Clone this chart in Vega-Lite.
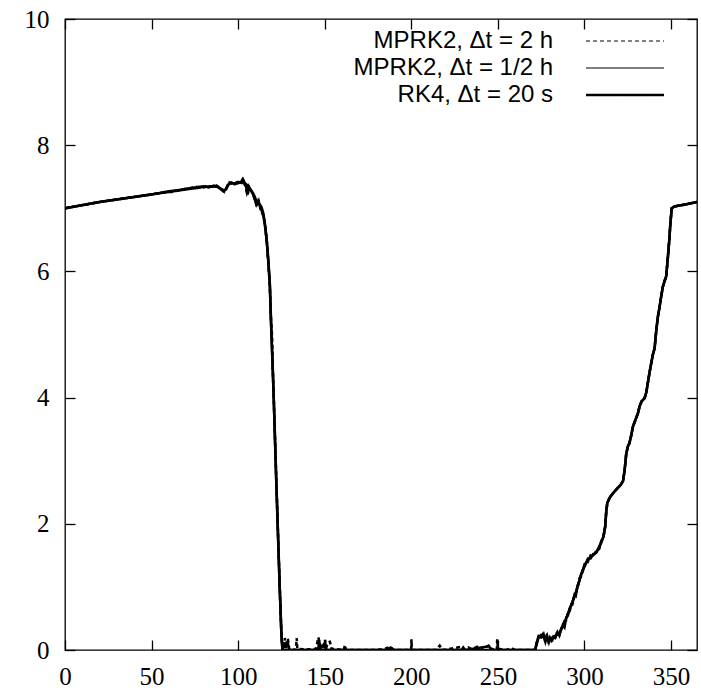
{
  "$schema": "https://vega.github.io/schema/vega-lite/v6.json",
  "width": 632,
  "height": 631,
  "autosize": {"type": "none"},
  "padding": {"left": 65, "top": 19, "right": 4, "bottom": 41},
  "background": "white",
  "datasets": {
    "rk4": [
      {"d":0,"v":7.0},{"d":10,"v":7.05},{"d":20,"v":7.1},{"d":30,"v":7.14},{"d":40,"v":7.18},{"d":50,"v":7.22},{"d":60,"v":7.26},{"d":70,"v":7.3},{"d":78,"v":7.33},{"d":84,"v":7.35},{"d":88,"v":7.34},{"d":90,"v":7.31},{"d":92,"v":7.28},{"d":93,"v":7.3},{"d":94,"v":7.37},{"d":96,"v":7.4},{"d":99,"v":7.39},{"d":101,"v":7.41},{"d":103,"v":7.42},{"d":105,"v":7.37},{"d":107,"v":7.3},{"d":109,"v":7.22},{"d":110.5,"v":7.12},{"d":112,"v":7.08},{"d":113.5,"v":7.02},{"d":114.5,"v":6.92},{"d":115.5,"v":6.75},{"d":116.5,"v":6.5},{"d":117.5,"v":6.15},{"d":118.3,"v":5.8},{"d":119,"v":5.2},{"d":120,"v":4.45},{"d":121,"v":3.6},{"d":122,"v":2.7},{"d":123,"v":1.85},{"d":124,"v":1.0},{"d":125,"v":0.25},{"d":125.6,"v":0},{"d":140,"v":0},{"d":160,"v":0},{"d":180,"v":0},{"d":200,"v":0},{"d":220,"v":0},{"d":240,"v":0},{"d":260,"v":0},{"d":271.5,"v":0},{"d":272.5,"v":0.1},{"d":273.5,"v":0.2},{"d":275,"v":0.24},{"d":277,"v":0.2},{"d":279,"v":0.17},{"d":281,"v":0.19},{"d":283,"v":0.22},{"d":285.5,"v":0.27},{"d":287.5,"v":0.38},{"d":289.5,"v":0.5},{"d":291.4,"v":0.64},{"d":293,"v":0.76},{"d":294.3,"v":0.85},{"d":296,"v":1.0},{"d":297.2,"v":1.12},{"d":299,"v":1.26},{"d":300,"v":1.33},{"d":302,"v":1.43},{"d":303.5,"v":1.47},{"d":305,"v":1.5},{"d":306.8,"v":1.55},{"d":308.5,"v":1.62},{"d":309.6,"v":1.7},{"d":311,"v":1.8},{"d":312,"v":1.96},{"d":312.6,"v":2.2},{"d":313.2,"v":2.33},{"d":314.5,"v":2.41},{"d":315.5,"v":2.45},{"d":317,"v":2.5},{"d":319.3,"v":2.57},{"d":321,"v":2.62},{"d":322.3,"v":2.68},{"d":323.2,"v":2.85},{"d":324.1,"v":3.1},{"d":325,"v":3.22},{"d":326,"v":3.28},{"d":327,"v":3.4},{"d":328,"v":3.54},{"d":329.9,"v":3.68},{"d":331,"v":3.76},{"d":331.8,"v":3.86},{"d":333,"v":3.94},{"d":334.7,"v":3.99},{"d":335.7,"v":4.08},{"d":336.6,"v":4.23},{"d":337.6,"v":4.4},{"d":338.6,"v":4.55},{"d":339.5,"v":4.68},{"d":340.5,"v":4.78},{"d":341.5,"v":5.07},{"d":342.4,"v":5.28},{"d":343.4,"v":5.44},{"d":344.3,"v":5.6},{"d":345.3,"v":5.76},{"d":346.3,"v":5.85},{"d":347.2,"v":5.92},{"d":348.2,"v":6.23},{"d":349,"v":6.5},{"d":349.6,"v":6.75},{"d":350.4,"v":7.0},{"d":352,"v":7.03},{"d":358,"v":7.06},{"d":365,"v":7.1}
    ],
    "half": [
      {"d":0,"v":7.0},{"d":10,"v":7.05},{"d":20,"v":7.1},{"d":30,"v":7.14},{"d":40,"v":7.18},{"d":50,"v":7.22},{"d":60,"v":7.27},{"d":66,"v":7.29},{"d":70,"v":7.31},{"d":75,"v":7.33},{"d":80,"v":7.35},{"d":83,"v":7.33},{"d":86,"v":7.36},{"d":88,"v":7.35},{"d":90,"v":7.3},{"d":91.5,"v":7.27},{"d":93,"v":7.31},{"d":94.5,"v":7.38},{"d":96,"v":7.41},{"d":98,"v":7.38},{"d":100,"v":7.42},{"d":102,"v":7.4},{"d":103,"v":7.45},{"d":104.5,"v":7.35},{"d":105.5,"v":7.22},{"d":106.5,"v":7.33},{"d":108,"v":7.26},{"d":109.5,"v":7.15},{"d":110.5,"v":7.06},{"d":111.5,"v":7.12},{"d":113,"v":7.0},{"d":114.5,"v":6.9},{"d":115.5,"v":6.72},{"d":116.5,"v":6.48},{"d":117.5,"v":6.12},{"d":118.3,"v":5.78},{"d":119,"v":5.18},{"d":120,"v":4.42},{"d":120.5,"v":4.05},{"d":121,"v":3.58},{"d":122,"v":2.68},{"d":123,"v":1.83},{"d":124,"v":0.98},{"d":125,"v":0.22},{"d":125.6,"v":0},{"d":126.8,"v":0.12},{"d":127.5,"v":0.03},{"d":128.5,"v":0.14},{"d":129.5,"v":0},{"d":146.2,"v":0},{"d":146.8,"v":0.15},{"d":147.6,"v":0.02},{"d":150.2,"v":0.12},{"d":151,"v":0},{"d":186,"v":0},{"d":188,"v":0.04},{"d":190,"v":0},{"d":229,"v":0},{"d":230,"v":0.04},{"d":231,"v":0},{"d":245,"v":0.06},{"d":246,"v":0},{"d":271.5,"v":0},{"d":272.5,"v":0.12},{"d":273.5,"v":0.22},{"d":275,"v":0.2},{"d":276,"v":0.25},{"d":277,"v":0.16},{"d":278,"v":0.22},{"d":279,"v":0.14},{"d":280,"v":0.2},{"d":281,"v":0.15},{"d":282,"v":0.21},{"d":283,"v":0.19},{"d":284,"v":0.27},{"d":285.5,"v":0.24},{"d":287.5,"v":0.4},{"d":288.5,"v":0.36},{"d":289.5,"v":0.52},{"d":290.5,"v":0.55},{"d":291.4,"v":0.66},{"d":293,"v":0.74},{"d":294.3,"v":0.88},{"d":295,"v":0.86},{"d":296,"v":1.02},{"d":297.2,"v":1.1},{"d":298,"v":1.2},{"d":299,"v":1.24},{"d":300,"v":1.36},{"d":301,"v":1.38},{"d":302,"v":1.45},{"d":303.5,"v":1.45},{"d":305,"v":1.52},{"d":306.8,"v":1.54},{"d":308.5,"v":1.64},{"d":309.6,"v":1.7},{"d":311,"v":1.8},{"d":312,"v":1.96},{"d":312.6,"v":2.2},{"d":313.2,"v":2.33},{"d":314.5,"v":2.41},{"d":315.5,"v":2.45},{"d":317,"v":2.5},{"d":319.3,"v":2.57},{"d":321,"v":2.62},{"d":322.3,"v":2.68},{"d":323.2,"v":2.85},{"d":324.1,"v":3.1},{"d":325,"v":3.22},{"d":326,"v":3.28},{"d":327,"v":3.4},{"d":328,"v":3.54},{"d":329.9,"v":3.68},{"d":331,"v":3.76},{"d":331.8,"v":3.86},{"d":333,"v":3.94},{"d":334.7,"v":3.99},{"d":335.7,"v":4.08},{"d":336.6,"v":4.23},{"d":337.6,"v":4.4},{"d":338.6,"v":4.55},{"d":339.5,"v":4.68},{"d":340.5,"v":4.78},{"d":341.5,"v":5.07},{"d":342.4,"v":5.28},{"d":343.4,"v":5.44},{"d":344.3,"v":5.6},{"d":345.3,"v":5.76},{"d":346.3,"v":5.85},{"d":347.2,"v":5.92},{"d":348.2,"v":6.23},{"d":349,"v":6.5},{"d":349.6,"v":6.75},{"d":350.4,"v":7.0},{"d":352,"v":7.03},{"d":358,"v":7.06},{"d":365,"v":7.1}
    ],
    "two": [
      {"d":0,"v":7.0},{"d":10,"v":7.05},{"d":20,"v":7.1},{"d":30,"v":7.14},{"d":40,"v":7.18},{"d":50,"v":7.22},{"d":56,"v":7.25},{"d":62,"v":7.26},{"d":68,"v":7.3},{"d":72,"v":7.32},{"d":76,"v":7.34},{"d":79,"v":7.32},{"d":82,"v":7.36},{"d":85,"v":7.34},{"d":87,"v":7.37},{"d":89,"v":7.33},{"d":91,"v":7.28},{"d":92,"v":7.26},{"d":93.5,"v":7.33},{"d":95,"v":7.41},{"d":97,"v":7.38},{"d":99,"v":7.41},{"d":101,"v":7.39},{"d":102.5,"v":7.46},{"d":104,"v":7.36},{"d":105,"v":7.25},{"d":106,"v":7.35},{"d":107.5,"v":7.28},{"d":109,"v":7.2},{"d":110,"v":7.1},{"d":111,"v":7.02},{"d":112,"v":7.1},{"d":113,"v":6.98},{"d":114.5,"v":6.88},{"d":115.5,"v":6.74},{"d":116.5,"v":6.5},{"d":117.5,"v":6.1},{"d":118.3,"v":5.76},{"d":119,"v":5.22},{"d":119.6,"v":4.98},{"d":120,"v":4.46},{"d":121,"v":3.62},{"d":122,"v":2.72},{"d":123,"v":1.86},{"d":124,"v":1.02},{"d":125,"v":0.24},{"d":125.6,"v":0},{"d":126.5,"v":0.05},{"d":127,"v":0.19},{"d":127.8,"v":0.1},{"d":128.7,"v":0.18},{"d":129.5,"v":0.02},{"d":131,"v":0.01},{"d":133.4,"v":0},{"d":133.8,"v":0.19},{"d":134.2,"v":0.02},{"d":140,"v":0.01},{"d":145,"v":0.02},{"d":146.3,"v":0.2},{"d":147,"v":0.12},{"d":148,"v":0.03},{"d":149.5,"v":0.02},{"d":150.2,"v":0.16},{"d":151,"v":0.05},{"d":152,"v":0.12},{"d":153,"v":0.13},{"d":154,"v":0.02},{"d":161,"v":0},{"d":161.7,"v":0.08},{"d":162.3,"v":0},{"d":180,"v":0},{"d":185,"v":0.02},{"d":187.6,"v":0.05},{"d":190,"v":0},{"d":199.9,"v":0},{"d":200.1,"v":0.17},{"d":200.3,"v":0},{"d":214,"v":0},{"d":216.4,"v":0.07},{"d":218,"v":0},{"d":229,"v":0.05},{"d":231,"v":0},{"d":233,"v":0.04},{"d":235,"v":0.01},{"d":238,"v":0.05},{"d":240,"v":0},{"d":244,"v":0.06},{"d":245.2,"v":0.08},{"d":246,"v":0.02},{"d":249.4,"v":0},{"d":249.6,"v":0.17},{"d":250,"v":0.02},{"d":255,"v":0},{"d":258,"v":0.03},{"d":260,"v":0},{"d":271.5,"v":0},{"d":272.5,"v":0.14},{"d":273.5,"v":0.2},{"d":274.5,"v":0.26},{"d":275.5,"v":0.18},{"d":276.5,"v":0.24},{"d":277.5,"v":0.13},{"d":278.5,"v":0.22},{"d":279.5,"v":0.12},{"d":280.5,"v":0.19},{"d":281.5,"v":0.16},{"d":282.5,"v":0.25},{"d":283.5,"v":0.18},{"d":284.5,"v":0.28},{"d":285.5,"v":0.23},{"d":286.5,"v":0.34},{"d":287.5,"v":0.36},{"d":288.5,"v":0.46},{"d":289.5,"v":0.47},{"d":290.5,"v":0.6},{"d":291.4,"v":0.6},{"d":292.3,"v":0.72},{"d":293,"v":0.72},{"d":294.3,"v":0.87},{"d":295,"v":0.9},{"d":296,"v":0.98},{"d":297.2,"v":1.14},{"d":298,"v":1.16},{"d":299,"v":1.28},{"d":300,"v":1.3},{"d":301,"v":1.42},{"d":302,"v":1.4},{"d":303.5,"v":1.5},{"d":305,"v":1.48},{"d":306.8,"v":1.57},{"d":308.5,"v":1.6},{"d":309.6,"v":1.72},{"d":311,"v":1.8},{"d":312,"v":1.96},{"d":312.6,"v":2.2},{"d":313.2,"v":2.33},{"d":314.5,"v":2.41},{"d":315.5,"v":2.45},{"d":317,"v":2.5},{"d":319.3,"v":2.57},{"d":321,"v":2.62},{"d":322.3,"v":2.68},{"d":323.2,"v":2.85},{"d":324.1,"v":3.1},{"d":325,"v":3.22},{"d":326,"v":3.28},{"d":327,"v":3.4},{"d":328,"v":3.54},{"d":329.9,"v":3.68},{"d":331,"v":3.76},{"d":331.8,"v":3.86},{"d":333,"v":3.94},{"d":334.7,"v":3.99},{"d":335.7,"v":4.08},{"d":336.6,"v":4.23},{"d":337.6,"v":4.4},{"d":338.6,"v":4.55},{"d":339.5,"v":4.68},{"d":340.5,"v":4.78},{"d":341.5,"v":5.07},{"d":342.4,"v":5.28},{"d":343.4,"v":5.44},{"d":344.3,"v":5.6},{"d":345.3,"v":5.76},{"d":346.3,"v":5.85},{"d":347.2,"v":5.92},{"d":348.2,"v":6.23},{"d":349,"v":6.5},{"d":349.6,"v":6.75},{"d":350.4,"v":7.0},{"d":352,"v":7.03},{"d":358,"v":7.06},{"d":365,"v":7.1}
    ]
  },
  "layer": [
    {
      "data": {"name": "rk4"},
      "mark": {"type": "line", "clip": true},
      "encoding": {
        "x": {"field": "d", "type": "quantitative", "scale": {"domain": [0, 365], "nice": false, "zero": false}, "axis": {"orient": "bottom", "values": [0,50,100,150,200,250,300,350], "labelPadding": 24, "title": null}},
        "y": {"field": "v", "type": "quantitative", "scale": {"domain": [0, 10], "nice": false}, "axis": {"orient": "left", "values": [0,2,4,6,8,10], "labelPadding": 26, "title": null}},
        "strokeDash": {"datum": "RK4, Δt = 20 s", "type": "nominal", "scale": {"domain": ["MPRK2, Δt = 2 h", "MPRK2, Δt = 1/2 h", "RK4, Δt = 20 s"], "range": [[4, 3], [1, 0], [1, 0]]}, "legend": {"title": null, "encode": {"symbols": {"update": {"strokeWidth": {"signal": "datum.value == 'RK4, Δt = 20 s' ? 2.5 : 1"}, "stroke": {"value": "#000000"}, "opacity": {"value": 1}}}}}},
        "strokeWidth": {"datum": "RK4, Δt = 20 s", "type": "nominal", "scale": {"type": "ordinal", "domain": ["MPRK2, Δt = 2 h", "MPRK2, Δt = 1/2 h", "RK4, Δt = 20 s"], "range": [1, 1.1, 2.6]}, "legend": null},
        "color": {"value": "#000000"}
      }
    },
    {
      "data": {"name": "half"},
      "mark": {"type": "line", "clip": true},
      "encoding": {
        "x": {"field": "d", "type": "quantitative", "axis": null},
        "y": {"field": "v", "type": "quantitative", "axis": null},
        "strokeDash": {"datum": "MPRK2, Δt = 1/2 h", "type": "nominal"},
        "strokeWidth": {"datum": "MPRK2, Δt = 1/2 h", "type": "nominal", "legend": null},
        "color": {"value": "#000000"}
      }
    },
    {
      "data": {"name": "two"},
      "mark": {"type": "line", "clip": true},
      "encoding": {
        "x": {"field": "d", "type": "quantitative", "axis": null},
        "y": {"field": "v", "type": "quantitative", "axis": null},
        "strokeDash": {"datum": "MPRK2, Δt = 2 h", "type": "nominal"},
        "strokeWidth": {"datum": "MPRK2, Δt = 2 h", "type": "nominal", "legend": null},
        "color": {"value": "#000000"}
      }
    },
    {
      "data": {"name": "rk4"},
      "mark": {"type": "line", "opacity": 0},
      "encoding": {
        "x": {"field": "d", "type": "quantitative", "axis": {"orient": "top", "values": [0,50,100,150,200,250,300,350], "labels": false, "title": null}},
        "y": {"field": "v", "type": "quantitative", "axis": {"orient": "right", "values": [0,2,4,6,8,10], "labels": false, "title": null}}
      }
    }
  ],
  "resolve": {"axis": {"x": "independent", "y": "independent"}},
  "config": {
    "view": {"stroke": "#000000", "strokeWidth": 1.3},
    "axis": {"grid": false, "domain": false, "tickColor": "#000000", "tickWidth": 1.3, "tickSize": -10, "labelFont": "Liberation Serif", "labelFontSize": 25, "labelColor": "#000000", "labelFlush": false, "labelOverlap": false},
    "legend": {"orient": "none", "legendX": 548, "legendY": 10, "padding": 0, "labelFont": "Liberation Sans", "labelFontSize": 24, "labelColor": "#000000", "symbolType": "M-4,0H4", "symbolSize": 380, "symbolStrokeColor": "#000000", "symbolOpacity": 1, "labelAlign": "right", "labelOffset": -84, "rowPadding": 3, "labelLimit": 400}
  }
}
